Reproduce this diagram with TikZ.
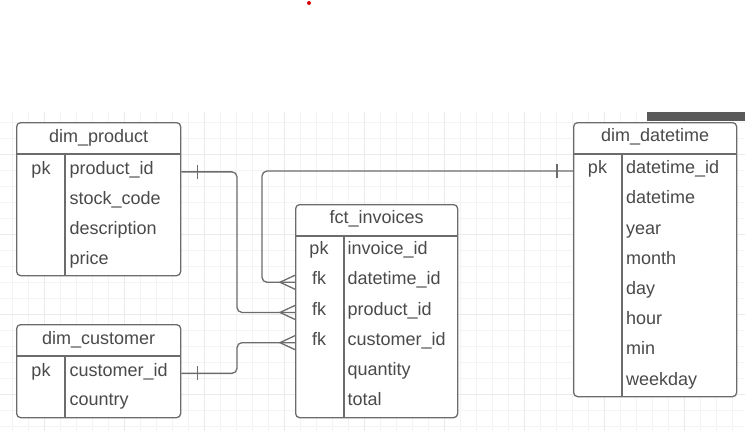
\documentclass[tikz,border=0pt]{standalone}
\usepackage{xcolor}
\usepackage{fontspec}
\setmainfont{Liberation Sans}
\usepackage{tikz}
\usetikzlibrary{positioning}

\definecolor{linegray}{HTML}{6C6C6C}
\definecolor{txtgray}{HTML}{4A4A4A}
\definecolor{gridminor}{HTML}{F4F4F4}
\definecolor{gridmajor}{HTML}{EAEAEA}
\definecolor{toolbar}{HTML}{5A5A5A}

\begin{document}
\begin{tikzpicture}[x=1pt,y=-1pt]
			\tikzstyle{every node} = [font = \fontsize{18}{21}\selectfont, text = txtgray, inner sep = 0pt]
			\tikzstyle{tbl} = [draw = linegray, line width = 1.3pt, rounded corners = 4pt, fill = white, anchor = north west]
			\tikzstyle{sep} = [draw = linegray, line width = 1.3pt]
			\tikzstyle{hdr} = [anchor = base]
			\tikzstyle{key} = [anchor = base]
			\tikzstyle{fld} = [anchor = base west]
			\tikzstyle{rel} = [draw = linegray, line width = 1.3pt, rounded corners = 5pt]
				\useasboundingbox (0,0) rectangle (745,431);
				\fill[red!85!black] (309,3) circle (2);
				% grid
				\foreach \gx in {12,28,...,744}
					\path[draw, gridminor, line width = 0.8pt] (\gx,112) -- (\gx,431);
				\foreach \gy in {122,138,...,430}
					\path[draw, gridminor, line width = 0.8pt] (0,\gy) -- (745,\gy);
				\foreach \gx in {44,124,...,744}
					\path[draw, gridmajor, line width = 0.8pt] (\gx,112) -- (\gx,431);
				\foreach \gy in {154,234,...,430}
					\path[draw, gridmajor, line width = 0.8pt] (0,\gy) -- (745,\gy);
				\fill[toolbar] (647,112) rectangle (745,121);
				% tables
				\node[tbl, minimum width = 164pt, minimum height = 153pt] (dp) at (16,122) {};
				\node[tbl, minimum width = 164pt, minimum height = 93pt] (dc) at (16,324) {};
				\node[tbl, minimum width = 162pt, minimum height = 213pt] (fi) at (295,204) {};
				\node[tbl, minimum width = 163pt, minimum height = 274pt] (dd) at (573,122) {};
				\foreach \t in {dp, dc, fi, dd} {
					\path[draw, sep] ([yshift=-32pt]\t.north west) -- ([yshift=-32pt]\t.north east);
					\path[draw, sep] ([xshift=49pt, yshift=-32pt]\t.north west) -- ([xshift=49pt]\t.south west);
				}
				\node[hdr] (dp-h) at ([yshift=-20pt]dp.north) {dim\_product};
				\node[hdr] (dc-h) at ([yshift=-20pt]dc.north) {dim\_customer};
				\node[hdr] (fi-h) at ([yshift=-19pt]fi.north) {fct\_invoices};
				\node[hdr] (dd-h) at ([yshift=-19.5pt]dd.north) {dim\_datetime};
				\foreach \f [count=\i] in {product\_id, stock\_code, description, price}
					\node[fld] (dp-f\i) at (69.5,144.5+30*\i) {\f};
				\foreach \f [count=\i] in {customer\_id, country}
					\node[fld] (dc-f\i) at (69.5,346.5+29.5*\i) {\f};
				\foreach \f [count=\i] in {invoice\_id, datetime\_id, product\_id, customer\_id, quantity, total}
					\node[fld] (fi-f\i) at (347.5,224.5+30.2*\i) {\f};
				\foreach \f [count=\i] in {datetime\_id, datetime, year, month, day, hour, min, weekday}
					\node[fld] (dd-f\i) at (626,143.5+30.2*\i) {\f};
				\node[key] (dp-k1) at (41,174.5) {pk};
				\node[key] (dc-k1) at (41,376) {pk};
				\node[key] (dd-k1) at (597.5,173.7) {pk};
				\node[key] (fi-k1) at (319,254.7) {pk};
				\foreach \i in {2,3,4}
					\node[key] (fi-k\i) at (319,224.5+30.2*\i) {fk};
				% relations
				\coordinate (dp-out) at (dp.east |- dp-f1.mid);
				\coordinate (dc-out) at (dc.east |- dc-f1.mid);
				\coordinate (dd-out) at (dd.west |- dd-f1.mid);
				\coordinate (cf2) at (fi.west |- fi-f2.mid);
				\coordinate (cf3) at (fi.west |- fi-f3.mid);
				\coordinate (cf4) at (fi.west |- fi-f4.mid);
				\path[rel] (dd-out) -| ([xshift=-33pt]cf2) -- (cf2);
				\path[rel] (dp-out) -| ([xshift=-58pt]cf3) -- (cf3);
				\path[rel] (dc-out) -| ([xshift=-58pt]cf4) -- (cf4);
				\path[draw, sep] ([xshift=16pt, yshift=7pt]dp-out) -- ([xshift=16pt, yshift=-7pt]dp-out);
				\path[draw, sep] ([xshift=16pt, yshift=7pt]dc-out) -- ([xshift=16pt, yshift=-7pt]dc-out);
				\path[draw, sep] ([xshift=-16pt, yshift=7pt]dd-out) -- ([xshift=-16pt, yshift=-7pt]dd-out);
				\foreach \c in {cf2, cf3, cf4} {
					\path[draw, sep] ([yshift=7pt]\c) -- ([xshift=-15pt]\c) -- ([yshift=-7pt]\c);
				}
\end{tikzpicture}
\end{document}
